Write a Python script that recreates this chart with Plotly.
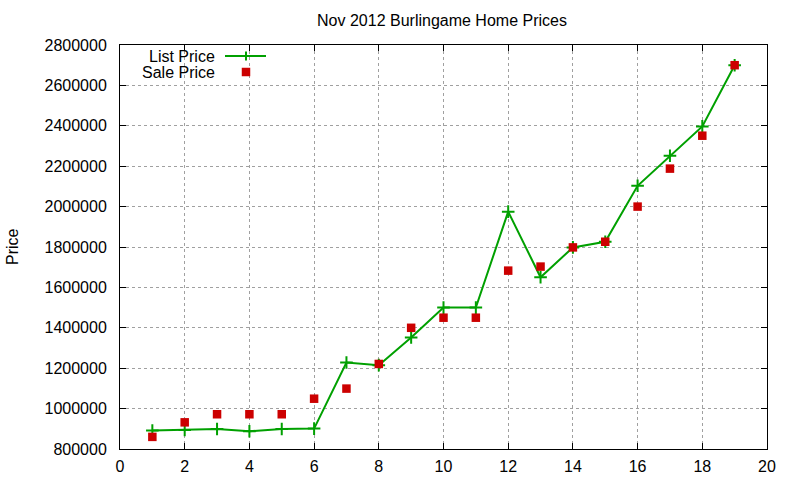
import plotly.graph_objects as go

# data
listings = list(range(1, 20))
list_price = [891000, 894000, 899000, 888000, 899000, 901000, 1228000, 1215000, 1352000, 1500000,
              1500000, 1975000, 1650000, 1798000, 1826000, 2103000, 2252000, 2397000, 2700000]
sale_price = [860000, 932000, 972000, 972000, 972000, 1049000, 1099000, 1221000, 1400000, 1450000,
              1450000, 1683000, 1703000, 1798000, 1826000, 2000000, 2188000, 2351000, 2700000]
series_names = ['List Price', 'Sale Price']
title_text = 'Nov 2012 Burlingame Home Prices'

FONT = 'Liberation Sans, Arial, sans-serif'
GREEN = '#00a000'
RED = '#cc0000'

# plot box in page pixels (body margin is removed below)
PL, PT, PW, PH = 120, 45, 647, 404


def px_x(p):
    # page pixel -> paper x
    return (p - PL) / PW


def px_y(p):
    # page pixel -> paper y
    return 1 - (p - PT) / PH


fig = go.Figure()
fig.add_trace(go.Scatter(
    x=listings, y=list_price, mode='lines+markers', name=series_names[0],
    line=dict(color=GREEN, width=2),
    marker=dict(symbol='cross-thin', size=9, line=dict(color=GREEN, width=2)),
))
fig.add_trace(go.Scatter(
    x=listings, y=sale_price, mode='markers', name=series_names[1],
    marker=dict(symbol='square', size=8.5, color=RED),
))

axis_common = dict(
    showline=True, linecolor='black', linewidth=1, mirror='ticks',
    ticks='inside', ticklen=6, tickcolor='black', tickwidth=1,
    showgrid=True, gridcolor='#a0a0a0', griddash='dot', gridwidth=1,
    zeroline=False, automargin=False,
    tickfont=dict(family=FONT, size=16, color='black'),
)
fig.update_xaxes(range=[0, 20], dtick=2, tick0=0, ticklabelstandoff=3, **axis_common)
fig.update_yaxes(range=[800000, 2800000], dtick=200000, tick0=800000, tickformat='d',
                 ticklabelstandoff=9, **axis_common)

# legend: text on the left, sample on the right, drawn by hand
for i, name in enumerate(series_names):
    fig.add_annotation(text=name, xref='paper', yref='paper', x=px_x(217),
                       y=px_y(56 + 16 * i), xanchor='right', yanchor='middle',
                       showarrow=False, font=dict(family=FONT, size=16, color='black'))
legend_shapes = [
    dict(type='line', x0=px_x(225), x1=px_x(266), y0=px_y(56), y1=px_y(56),
         line=dict(color=GREEN, width=2)),
    dict(type='line', x0=px_x(246), x1=px_x(246), y0=px_y(51.5), y1=px_y(60.5),
         line=dict(color=GREEN, width=2)),
    dict(type='rect', x0=px_x(241.75), x1=px_x(250.25), y0=px_y(67.75), y1=px_y(76.25),
         fillcolor=RED, line=dict(width=0)),
]
for s in legend_shapes:
    fig.add_shape(xref='paper', yref='paper', **s)

fig.add_annotation(text='Price', xref='paper', yref='paper', x=px_x(12), y=px_y(246),
                   textangle=-90, xanchor='center', yanchor='middle', showarrow=False,
                   font=dict(family=FONT, size=16, color='black'))

fig.update_layout(
    width=800, height=480, autosize=False,
    margin=dict(l=PL, r=800 - PL - PW, t=PT, b=480 - PT - PH),
    paper_bgcolor='white', plot_bgcolor='white',
    title=dict(text=title_text, x=px_x(442), xref='paper', xanchor='center',
               y=1 - 20 / 480, yanchor='middle',
               font=dict(family=FONT, size=16, color='black')),
    showlegend=False,
)

fig.write_html("out.html", config={'responsive': False, 'displayModeBar': False},
               post_script="document.body.style.margin = '0';")
